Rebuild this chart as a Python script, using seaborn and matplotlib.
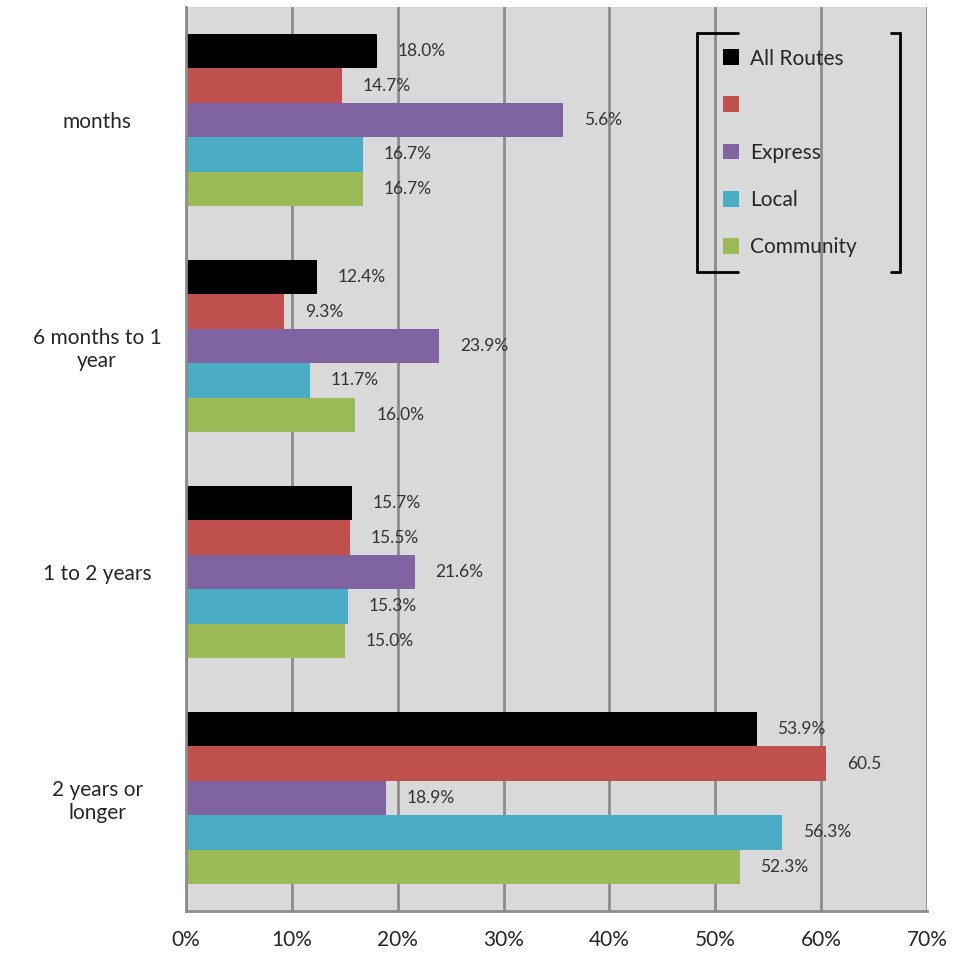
import matplotlib
matplotlib.use("Agg")
import matplotlib.pyplot as plt
from matplotlib.lines import Line2D
from matplotlib.patches import Patch
import pandas as pd
import seaborn as sns

sns.set_style("white")
plt.rcParams['font.family'] = ['Lato', 'DejaVu Sans']

categories = ["months", "6 months to 1\nyear", "1 to 2 years", "2 years or\nlonger"]
series = ["All Routes", "", "Express", "Local", "Community"]
colors = ["#000000", "#c0504d", "#8064a2", "#4bacc6", "#9bbb59"]

# values per series, in category order
all_routes = [18.0, 12.4, 15.7, 53.9]
red_series = [14.7, 9.3, 15.5, 60.5]
express = [35.6, 23.9, 21.6, 18.9]
local = [16.7, 11.7, 15.3, 56.3]
community = [16.7, 16.0, 15.0, 52.3]

# labels as printed on the chart
labels_all = ["18.0%", "12.4%", "15.7%", "53.9%"]
labels_red = ["14.7%", "9.3%", "15.5%", "60.5"]
labels_express = ["5.6%", "23.9%", "21.6%", "18.9%"]
labels_local = ["16.7%", "11.7%", "15.3%", "56.3%"]
labels_community = ["16.7%", "16.0%", "15.0%", "52.3%"]

values = [all_routes, red_series, express, local, community]
labels = [labels_all, labels_red, labels_express, labels_local, labels_community]

rows = []
for s, vals, labs in zip(series, values, labels):
    for c, v, lab in zip(categories, vals, labs):
        rows.append({"category": c, "series": s, "value": v, "label": lab})
df = pd.DataFrame(rows)

fig = plt.figure(figsize=(9.56, 9.59), dpi=100)
ax = fig.add_axes([186 / 956, 1 - 911 / 959, (927 - 186) / 956, (911 - 7) / 959])
ax.set_facecolor("#d9d9d9")

sns.barplot(data=df, x="value", y="category", hue="series",
            order=categories, hue_order=series, palette=colors,
            width=0.76, gap=0, saturation=1, legend=False, ax=ax,
            edgecolor="none", linewidth=0, errorbar=None)

for cont, labs in zip(ax.containers, labels):
    ax.bar_label(cont, labels=labs, padding=15, fontsize=12.5, color="#333333")

ax.set_xlim(0, 70)
ax.set_xticks(range(0, 71, 10))
ax.set_xticklabels([f"{t}%" for t in range(0, 71, 10)], fontsize=15)
ax.xaxis.grid(True, color="#8c8c8c", linewidth=2)
ax.set_axisbelow(True)
ax.tick_params(axis="x", length=7, width=1.5, color="#8c8c8c", pad=7)

ax.set_ylim(len(categories) - 0.5, -0.5)
ax.set_yticks(range(len(categories)))
ax.set_yticklabels(categories, fontsize=15, ha="center", multialignment="center")
ax.set_yticks([i - 0.5 for i in range(len(categories) + 1)], minor=True)
ax.tick_params(axis="y", which="major", length=0, pad=64)
ax.tick_params(axis="y", which="minor", length=6, width=1.5, color="#8c8c8c")
ax.set_xlabel("")
ax.set_ylabel("")

for side in ["top", "right"]:
    ax.spines[side].set_visible(False)
for side in ["left", "bottom"]:
    ax.spines[side].set_color("#8c8c8c")
    ax.spines[side].set_linewidth(2)

handles = [Patch(facecolor=col, edgecolor="none") for col in colors]
leg = ax.legend(handles, series, loc="upper left",
                bbox_to_anchor=((708 - 186) / 741, 1 - (34 - 7) / 904),
                frameon=False, fontsize=15, handlelength=0.8, handleheight=0.8,
                labelspacing=1.3, handletextpad=0.5, borderpad=0.2)

# bracket-like legend frame
def fx(px):
    return px / 956

def fy(py):
    return 1 - py / 959

bracket = [
    ([697, 738], [33, 33]), ([697, 697], [33, 272]), ([697, 738], [272, 272]),
    ([891, 900], [33, 33]), ([900, 900], [33, 272]), ([891, 900], [272, 272]),
]
for xs, ys in bracket:
    fig.add_artist(Line2D([fx(x) for x in xs], [fy(y) for y in ys],
                          color="black", linewidth=2))

fig.savefig("out.png", dpi=100)
